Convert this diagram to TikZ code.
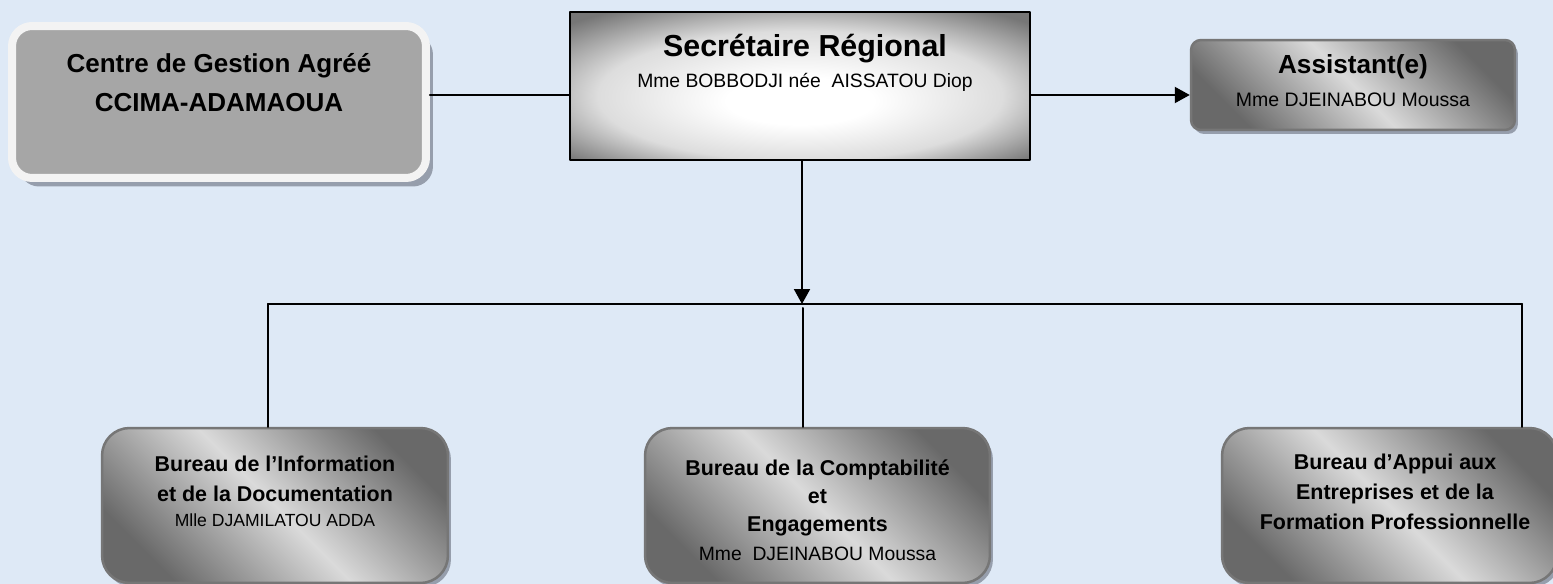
\documentclass[tikz,border=0pt]{standalone}
\usepackage{fontspec}
\setmainfont{Liberation Sans}
\usetikzlibrary{arrows.meta,shadows}

% colours of the chart
\definecolor{pagebg}{RGB}{222,233,246}
\definecolor{boxgray}{RGB}{166,166,166}
\definecolor{rimwhite}{RGB}{243,243,243}
\definecolor{shadowgray}{RGB}{150,158,172}
\definecolor{edgegray}{RGB}{118,118,118}
\definecolor{darkshade}{RGB}{105,105,105}
\definecolor{lightshade}{RGB}{218,218,218}
\definecolor{headshade}{RGB}{118,118,118}

% glow of the head box
\pgfdeclareradialshading{secglow}{\pgfpoint{0bp}{-6bp}}{%
  color(0bp)=(white); color(8bp)=(white);
  color(22bp)=(white!75!headshade); color(34bp)=(headshade); color(50bp)=(headshade)}

\newcommand{\namefont}{\mdseries\fontsize{10}{12}\selectfont}

\tikzset{
  link/.style={line width=0.04cm, black},
  headarrow/.style={link, -{Triangle[length=0.3cm, width=0.32cm]}},
  shadowed/.style={drop shadow={shadow xshift=0.06cm, shadow yshift=-0.08cm, fill=shadowgray, opacity=1}},
  centrebox/.style={drop shadow={shadow xshift=0.14cm, shadow yshift=-0.17cm, fill=shadowgray, opacity=1},
    draw=rimwhite, line width=0.16cm, fill=boxgray, rounded corners=0.4cm},
  headerbox/.style={draw=black, line width=0.04cm, shade, shading=secglow},
  officebox/.style={shadowed, draw=edgegray, line width=0.05cm, rounded corners=0.55cm,
    top color=darkshade, bottom color=darkshade, middle color=lightshade, shading angle=-45},
  boldtext/.style={align=center, inner sep=0pt, anchor=north, font=\bfseries\fontsize{12.2}{17}\selectfont},
}

\begin{document}
\begin{tikzpicture}[x=0.02cm, y=-0.02cm, line cap=round, line join=round]
  % page
  \fill[pagebg] (0,0) rectangle (1553,584);
  \useasboundingbox (0,0) rectangle (1553,584);

  % top row
  \node[centrebox, minimum width=8.28cm, minimum height=3.04cm] (cga) at (219,102) {};
  \node[headerbox, minimum width=9.2cm, minimum height=2.96cm] (sec) at (800,86) {};
  \node[officebox, rounded corners=0.2cm, minimum width=6.48cm, minimum height=1.8cm] (asst) at (1353,85) {};

  % bottom row
  \node[officebox, minimum width=6.92cm, minimum height=3.1cm] (info) at (275,505.5) {};
  \node[officebox, minimum width=6.9cm, minimum height=3.1cm] (compta) at (817.5,505.5) {};
  \node[officebox, minimum width=6.7cm, minimum height=3.1cm] (appui) at (1389.5,505.5) {};

  % texts
  \node[boldtext, font=\bfseries\fontsize{14.8}{22}\selectfont] (cgaText) at (219,53)
    {Centre de Gestion Agréé\\CCIMA-ADAMAOUA};
  \node[boldtext, font=\bfseries\fontsize{17.3}{17.6}\selectfont] (secText) at (805,34)
    {Secrétaire Régional\\{\mdseries\fontsize{11}{12}\selectfont Mme BOBBODJI née\ \ AISSATOU Diop}};
  \node[boldtext, font=\bfseries\fontsize{14.9}{19}\selectfont] (asstText) at (1353,54)
    {Assistant(e)\\{\mdseries\fontsize{11.1}{12}\selectfont Mme DJEINABOU Moussa}};
  \node[boldtext] (infoText) at (275,456)
    {Bureau de l’Information\\et de la Documentation\\[-3pt]{\namefont Mlle DJAMILATOU ADDA}};
  \node[boldtext, font=\bfseries\fontsize{12.2}{16.2}\selectfont] (comptaText) at (817.5,459)
    {Bureau de la Comptabilité\\et\\Engagements\\{\mdseries\fontsize{11}{12}\selectfont Mme\ \ DJEINABOU Moussa}};
  \node[boldtext] (appuiText) at (1395,454)
    {Bureau d’Appui aux\\Entreprises et de la\\Formation Professionnelle};

  % connectors
  \coordinate (row) at (0,95);
  \coordinate (hub) at (802,304);
  \coordinate (busL) at (268,304);
  \coordinate (busM) at (803,308);
  \coordinate (busR) at (1522,304);
  \draw[link] (cga.east |- row) -- (sec.west |- row);
  \draw[headarrow] (sec.east |- row) -- (asst.west |- row);
  \draw[headarrow] (hub |- sec.south) -- (hub);
  \draw[link] (busL) -- (busR);
  \draw[link] (busL) -- (busL |- info.north);
  \draw[link] (busM) -- (busM |- compta.north);
  \draw[link] (busR) -- (busR |- appui.north);
\end{tikzpicture}
\end{document}
